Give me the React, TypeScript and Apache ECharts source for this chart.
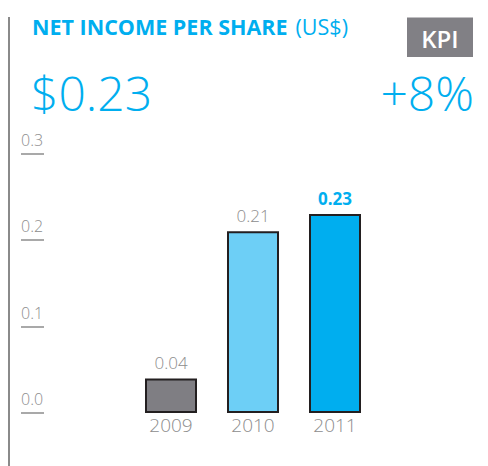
import React, { useEffect, useRef } from "react";
import * as echarts from "echarts";

const categories = ["2009", "2010", "2011"];
const values = [0.04, 0.21, 0.23];
const barColors = ["#7f7e83", "#6dcff6", "#00aeef"];
const yTicks = [0, 0.1, 0.2, 0.3];

const FONT = "'Open Sans', 'Noto Sans', sans-serif";
const CYAN = "#00aeef";
const GRAY = "#8d8d8d";

export default function App() {
  const ref = useRef<HTMLDivElement>(null);
  useEffect(() => {
    if (!ref.current) return;
    const chart = echarts.init(ref.current, null, { renderer: "svg" });
    const gridTop = 153.5;
    const gridBottom = 53;
    chart.setOption({
      animation: false,
      backgroundColor: "#ffffff",
      textStyle: { fontFamily: FONT },
      grid: [
        { left: 21, width: 23, top: gridTop, bottom: gridBottom, outerBoundsMode: "none", containLabel: false },
        { left: 130, width: 246, top: gridTop, bottom: gridBottom, outerBoundsMode: "none", containLabel: false },
      ],
      xAxis: [
        { gridIndex: 0, type: "value", show: false, min: 0, max: 1 },
        {
          gridIndex: 1,
          type: "category",
          data: categories,
          axisLine: { show: false },
          axisTick: { show: false },
          axisLabel: { color: GRAY, fontSize: 19, margin: 2, fontFamily: FONT, fontWeight: 300 },
        },
      ],
      yAxis: [
        {
          gridIndex: 0,
          type: "value",
          min: yTicks[0],
          max: yTicks[yTicks.length - 1],
          interval: 0.1,
          axisLine: { show: false },
          axisTick: { show: false },
          splitLine: { show: true, lineStyle: { color: GRAY, width: 1.5 } },
          axisLabel: {
            inside: true,
            margin: 0,
            verticalAlign: "bottom",
            padding: [0, 0, 6, 0],
            color: GRAY,
            fontSize: 16,
            fontWeight: 300,
            fontFamily: FONT,
            formatter: (v: number) => v.toFixed(1),
          },
        },
        {
          gridIndex: 1,
          type: "value",
          min: 0,
          max: 0.3,
          interval: 0.1,
          show: false,
        },
      ],
      series: [
        {
          type: "bar",
          xAxisIndex: 1,
          yAxisIndex: 1,
          barWidth: 52,
          data: values.map((v, i) => ({
            value: v,
            itemStyle: { color: barColors[i], borderColor: "#231f20", borderWidth: 2 },
            label:
              i === values.length - 1
                ? { color: CYAN, fontWeight: "bold" }
                : { color: GRAY, fontWeight: 300 },
          })),
          label: {
            show: true,
            position: "top",
            distance: 7,
            fontSize: 17,
            fontFamily: FONT,
            formatter: (p: any) => p.value.toFixed(2),
          },
        },
      ],
      graphic: [
        {
          type: "line",
          shape: { x1: 9, y1: 17, x2: 9, y2: 466 },
          style: { stroke: "#8a8a8a", lineWidth: 2 },
        },
        {
          type: "text",
          x: 32,
          y: 26,
          style: {
            text: "{a|NET INCOME PER SHARE}{s| }{b|(US$)}",
            verticalAlign: "middle",
            rich: {
              a: { fontSize: 21.5, fontWeight: "bold", fill: CYAN, fontFamily: FONT },
              s: { fontSize: 21.5, width: 8 },
              b: { fontSize: 21.5, fontWeight: "normal", fill: CYAN, fontFamily: FONT },
            },
          },
        },
        {
          type: "rect",
          shape: { x: 407, y: 17.5, width: 66, height: 39.5 },
          style: { fill: "#818085" },
        },
        {
          type: "text",
          x: 440,
          y: 38,
          style: {
            text: "KPI",
            align: "center",
            verticalAlign: "middle",
            fontSize: 24,
            fontWeight: 600,
            fill: "#ffffff",
            fontFamily: FONT,
          },
        },
        {
          type: "text",
          x: 31,
          y: 92,
          style: {
            text: "$0.23",
            verticalAlign: "middle",
            fontSize: 48,
            fontWeight: 300,
            fill: CYAN,
            fontFamily: FONT,
          },
        },
        {
          type: "text",
          x: 474,
          y: 92,
          style: {
            text: "+8%",
            align: "right",
            verticalAlign: "middle",
            fontSize: 48,
            fontWeight: 300,
            fill: CYAN,
            fontFamily: FONT,
          },
        },
      ],
    });
    return () => chart.dispose();
  }, []);
  return (
    <div
      ref={ref}
      style={{ position: "absolute", left: 0, top: 0, width: 488, height: 466 }}
    />
  );
}
